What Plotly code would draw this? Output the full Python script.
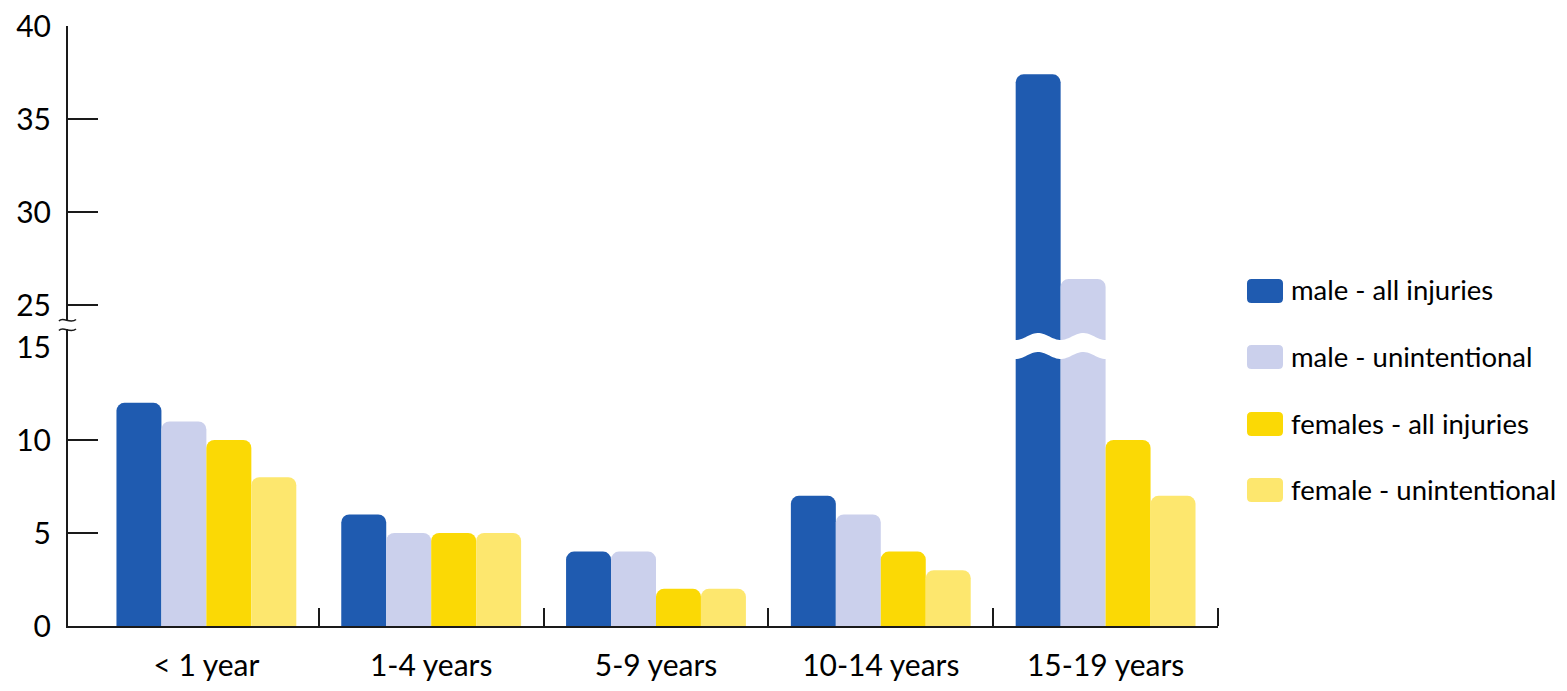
import numpy as np
import plotly.graph_objects as go

# ---------------- data ----------------
categories = ["< 1 year", "1-4 years", "5-9 years", "10-14 years", "15-19 years"]
series_names = ["male - all injuries", "male - unintentional",
                "females - all injuries", "female - unintentional"]
male_all = [12, 6, 4, 7, 37.4]
male_unintentional = [11, 5, 4, 6, 26.4]
females_all = [10, 5, 2, 4, 10]
female_unintentional = [8, 5, 2, 3, 7]
series_values = [male_all, male_unintentional, females_all, female_unintentional]
colors = ["#1F5BB0", "#CBD0EC", "#FBD905", "#FDE76E"]

lower_ticks = [0, 5, 10, 15]
upper_ticks = [25, 30, 35, 40]

# ---------------- layout constants ----------------
W, H = 1567, 691
ML, MR, MT, MB = 68, 349, 26, 65
plot_h = H - MT - MB          # 600
plot_w = W - ML - MR          # 1150
split_px = 346                # pixel row where lower and upper panels meet
px_per_unit = 18.6
lower_frac = (H - MB - split_px) / plot_h
lower_top = (H - MB - split_px) / px_per_unit
upper_bottom = upper_ticks[0] - (split_px - (MT + (upper_ticks[-1] - upper_ticks[0]) * px_per_unit)) / px_per_unit

xpos = list(range(len(categories)))
boundaries = [p + 0.5 for p in xpos]
x_left = -0.5 - 26 / 225.0

FONT = "Lato, 'Open Sans', sans-serif"
AX = "#1a1a1a"

fig = go.Figure()
for name, vals, col in zip(series_names, series_values, colors):
    fig.add_trace(go.Bar(x=xpos, y=vals, name=name, marker_color=col,
                         marker_line_width=0, showlegend=False,
                         xaxis="x", yaxis="y", hoverinfo="name+y"))
    fig.add_trace(go.Bar(x=xpos, y=vals, name=name, marker_color=col,
                         marker_line_width=0, showlegend=False,
                         xaxis="x2", yaxis="y2", hoverinfo="name+y"))

yaxis_common = dict(showline=True, linecolor=AX, linewidth=2, ticks="inside",
                    ticklen=30, tickwidth=2, tickcolor=AX, showgrid=False,
                    zeroline=False, tickfont=dict(family=FONT, size=30, color="#000"),
                    ticklabelstandoff=9, tickmode="array", automargin=False)

fig.update_layout(
    width=W, height=H,
    margin=dict(l=ML, r=MR, t=MT, b=MB, pad=0, autoexpand=False),
    paper_bgcolor="white", plot_bgcolor="white",
    barmode="group", bargap=0.2, bargroupgap=0, barcornerradius=8,
    font=dict(family=FONT, color="#000"),
    showlegend=False,
    xaxis=dict(domain=[0, 1], range=[x_left, 4.5], anchor="y",
               tickmode="array", tickvals=xpos, ticktext=categories, ticks="",
               showline=True, linecolor=AX, linewidth=2, showgrid=False,
               zeroline=False, tickfont=dict(family=FONT, size=30, color="#000"),
               ticklabelstandoff=12, automargin=False,
               minor=dict(tickmode="array", tickvals=boundaries, ticks="inside",
                          ticklen=18, tickwidth=2, tickcolor=AX, showgrid=False)),
    xaxis2=dict(domain=[0, 1], matches="x", anchor="y2", visible=False),
    yaxis=dict(domain=[0, lower_frac], range=[0, lower_top], tickvals=lower_ticks,
               anchor="x", **yaxis_common),
    yaxis2=dict(domain=[lower_frac, 1], range=[upper_bottom, upper_ticks[-1]],
                tickvals=upper_ticks, anchor="x2", **yaxis_common),
)

# ---------------- helpers ----------------
def py2paper(py):
    return (H - MB - py) / plot_h

def px2paper(px):
    return (px - ML) / plot_w

def rounded_rect(x0, y0, x1, y1, r):
    """pixel box -> rounded path in paper coords"""
    P = lambda x, y: f"{px2paper(x):.5f},{py2paper(y):.5f}"
    return (f"M {P(x0 + r, y0)} L {P(x1 - r, y0)} Q {P(x1, y0)} {P(x1, y0 + r)} "
            f"L {P(x1, y1 - r)} Q {P(x1, y1)} {P(x1 - r, y1)} "
            f"L {P(x0 + r, y1)} Q {P(x0, y1)} {P(x0, y1 - r)} "
            f"L {P(x0, y0 + r)} Q {P(x0, y0)} {P(x0 + r, y0)} Z")

shapes = []
annotations = []

# ---------------- break decorations ----------------
xs = np.linspace(3.575, 4.025, 60)
top = 336.5 + 3.5 * np.cos(2 * np.pi * (xs - 3.8) / 0.2)
bot = top + 19
pts = [(x, py2paper(y)) for x, y in zip(xs, top)] + \
      [(x, py2paper(y)) for x, y in zip(xs[::-1], bot[::-1])]
path = "M " + " L ".join(f"{x:.4f},{y:.5f}" for x, y in pts) + " Z"
shapes.append(dict(type="path", xref="x", yref="paper", path=path,
                   fillcolor="white", line=dict(width=0), layer="above"))

shapes.append(dict(type="rect", xref="paper", yref="paper",
                   x0=px2paper(64), x1=px2paper(72), y0=py2paper(329),
                   y1=py2paper(320), fillcolor="white", line=dict(width=0),
                   layer="above"))
for off in (0, 9.5):
    p0 = (px2paper(59), py2paper(321 + off))
    c1 = (px2paper(63), py2paper(316 + off))
    c2 = (px2paper(70), py2paper(324.5 + off))
    p1 = (px2paper(76), py2paper(319.5 + off))
    d = (f"M {p0[0]:.5f},{p0[1]:.5f} C {c1[0]:.5f},{c1[1]:.5f} "
         f"{c2[0]:.5f},{c2[1]:.5f} {p1[0]:.5f},{p1[1]:.5f}")
    shapes.append(dict(type="path", xref="paper", yref="paper", path=d,
                       line=dict(color=AX, width=1.6), layer="above"))

# ---------------- legend (swatch + label) ----------------
legend_rows_px = [291, 357, 424, 490]
for name, col, cy in zip(series_names, colors, legend_rows_px):
    shapes.append(dict(type="path", xref="paper", yref="paper",
                       path=rounded_rect(1247, cy - 12, 1283, cy + 12, 4.5),
                       fillcolor=col, line=dict(width=0), layer="above"))
    annotations.append(dict(xref="paper", yref="paper", x=px2paper(1289),
                            y=py2paper(cy - 1), xanchor="left", yanchor="middle",
                            text=name, showarrow=False,
                            font=dict(family=FONT, size=27.5, color="#000")))

fig.update_layout(shapes=shapes, annotations=annotations)

fig.write_html("out.html")
